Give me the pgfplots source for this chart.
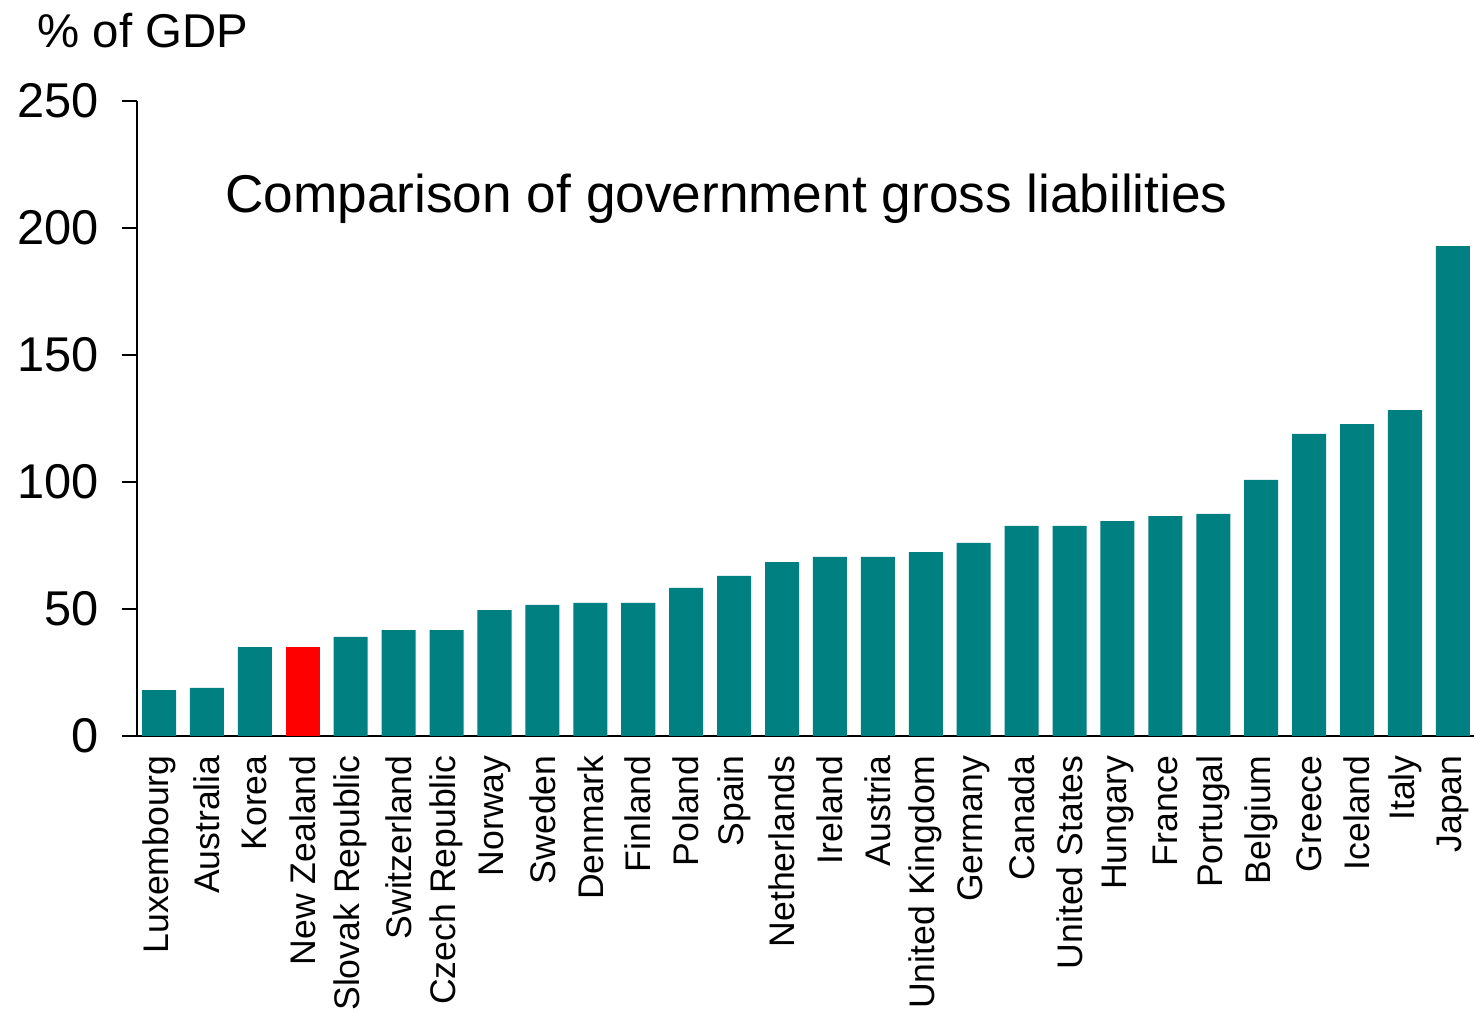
\documentclass[border=0pt]{standalone}
\usepackage{pgfplots}
\pgfplotsset{compat=1.18}
\usepackage{fontspec}
\setmainfont{Liberation Sans}
\definecolor{teal1}{RGB}{0,128,128}
\begin{document}
\begin{tikzpicture}
\begin{axis}[
  name=ax,
  at={(0,0)}, anchor=south west,
  scale only axis,
  width=668.5pt, height=317.5pt,
  xmin=-0.46, xmax=27.44,
  ymin=0, ymax=250,
  ytick={0,50,100,150,200,250},
  axis x line*=bottom, axis y line*=left,
  axis line style={line width=1pt,-},
  xtick={0,...,27},
  xticklabels={Luxembourg,Australia,Korea,New Zealand,Slovak Republic,Switzerland,Czech Republic,Norway,Sweden,Denmark,Finland,Poland,Spain,Netherlands,Ireland,Austria,United Kingdom,Germany,Canada,United States,Hungary,France,Portugal,Belgium,Greece,Iceland,Italy,Japan},
  x tick style={draw=none},
  y tick style={line width=1pt,black},
  tick align=outside,
  major tick length=7.5pt,
  ytick pos=left,
  xticklabel style={rotate=90, anchor=east, font=\fontsize{17.8}{19}\selectfont, inner sep=0pt, xshift=-2pt},
  yticklabel style={font=\fontsize{24.4}{26}\selectfont, anchor=east, inner sep=0pt, xshift=-11.5pt},
  /pgf/number format/assume math mode=true,
  ybar, bar width=0.71, bar shift=0pt,
  clip=false,
]
\addplot[fill=teal1, draw=none] coordinates {
(0,18.1) (1,18.9) (2,35.0) (4,39.0) (5,41.7) (6,41.7) (7,49.6) (8,51.6) (9,52.4) (10,52.4)
(11,58.3) (12,63.0) (13,68.5) (14,70.5) (15,70.5) (16,72.4) (17,76.0) (18,82.7) (19,82.7)
(20,84.6) (21,86.6) (22,87.4) (23,100.8) (24,118.9) (25,122.8) (26,128.3) (27,192.9)};
\addplot[fill=red, draw=none] coordinates {(3,35.0)};
\end{axis}
\node[anchor=base west, inner sep=0pt, font=\fontsize{26.6}{28}\selectfont] at (44pt,261.5pt) {Comparison of government gross liabilities};
\node[anchor=base west, inner sep=0pt, font=\fontsize{23.7}{25}\selectfont] at (-50pt,344pt) {\% of GDP};
\pgfresetboundingbox
\path[use as bounding box] (-68.5pt,-137pt) rectangle (668.5pt,368pt);
\end{tikzpicture}
\end{document}
